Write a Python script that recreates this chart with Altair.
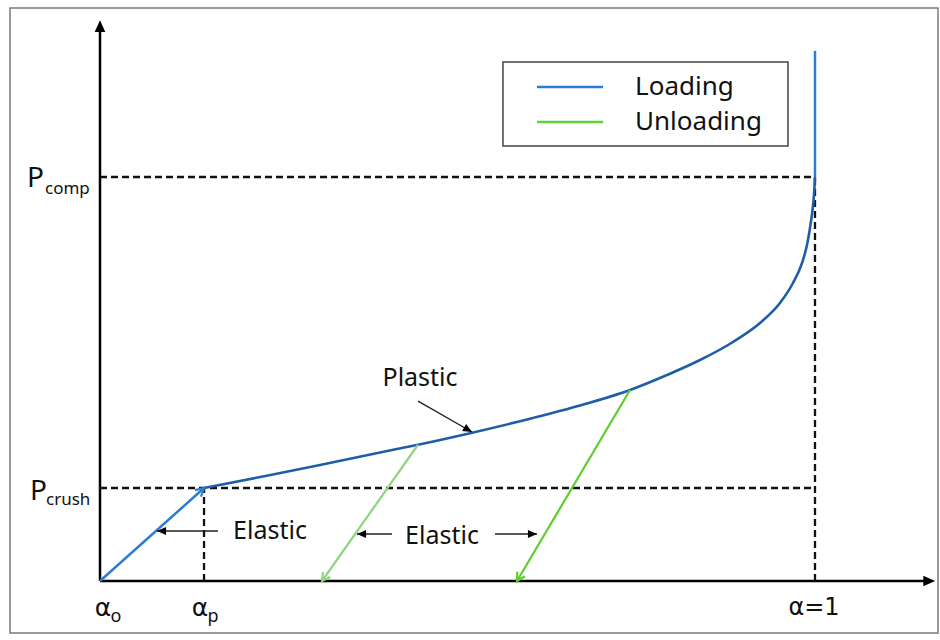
import math
import altair as alt
import pandas as pd

W, H = 940, 640

# Normalised axes: alpha_o = 0, alpha = 1 at full density; pressure in units of P_crush
X_DOMAIN = [-0.13986, 1.17483]
Y_DOMAIN = [-0.6344, 6.2473]

ALPHA_P = 0.1455
P_CRUSH = 1.0
P_COMP = 4.344
P_TOP = 5.70          # end of the vertical loading branch at alpha = 1
X_AXIS_END = 1.168
Y_AXIS_END = 6.03

# plastic compaction curve (alpha_p, P_crush) -> (1, P_comp)
curve_alpha = [0.1455, 0.2238, 0.3077, 0.3916, 0.4448, 0.5175, 0.6056, 0.6713,
               0.7413, 0.7930, 0.8392, 0.8853, 0.9231, 0.9510, 0.9692, 0.9818,
               0.9888, 0.9930, 0.9965, 0.9986, 1.0]
curve_p = [1.0, 1.118, 1.247, 1.382, 1.465, 1.589, 1.753, 1.887,
           2.054, 2.215, 2.376, 2.570, 2.774, 2.989, 3.204, 3.419,
           3.613, 3.796, 3.989, 4.151, 4.344]

# elastic unloading paths: start on the curve, end on the alpha axis
unload_start_alpha = [0.4448, 0.7413]
unload_start_p = [1.465, 2.054]
unload_end_alpha = [0.3105, 0.5832]
unload_colors = ["#8fd47f", "#5fcd2c"]

BLUE_LIGHT = "#2c7bd4"
BLUE_DARK = "#1f5ea6"
GREEN = "#5fcf3a"
FONT = "Noto Sans"
GREEK_FONT = "DejaVu Sans"

xs = alt.Scale(domain=X_DOMAIN, nice=False, zero=False)
ys = alt.Scale(domain=Y_DOMAIN, nice=False, zero=False)


def px(a):
    return (a - X_DOMAIN[0]) / (X_DOMAIN[1] - X_DOMAIN[0]) * W


def py(p):
    return H - (p - Y_DOMAIN[0]) / (Y_DOMAIN[1] - Y_DOMAIN[0]) * H


def heading(a0, p0, a1, p1):
    """Clockwise screen angle (deg from 'up') of the direction from point 0 to point 1."""
    dx = px(a1) - px(a0)
    dy = py(p1) - py(p0)
    return math.degrees(math.atan2(dx, -dy)) % 360


def enc(**kw):
    base = dict(x=alt.X("a:Q", scale=xs, axis=None), y=alt.Y("p:Q", scale=ys, axis=None))
    base.update(kw)
    return base


def seg_enc():
    return dict(x=alt.X("a:Q", scale=xs, axis=None), y=alt.Y("p:Q", scale=ys, axis=None),
                x2="a2:Q", y2="p2:Q")


# outer frame
frame = alt.Chart(pd.DataFrame({"a": [-0.1259], "p": [6.161], "a2": [1.172], "p2": [-0.559]})).mark_rect(
    fill="white", stroke="#7a7a7a", strokeWidth=1.5).encode(**seg_enc())

# dashed guide lines
guides = pd.DataFrame({
    "a": [0.0, 0.0, ALPHA_P, 1.0],
    "p": [P_CRUSH, P_COMP, 0.0, 0.0],
    "a2": [1.0, 1.0, ALPHA_P, 1.0],
    "p2": [P_CRUSH, P_COMP, P_CRUSH, P_COMP],
})
dashed = alt.Chart(guides).mark_rule(color="#111", strokeWidth=2.3, strokeDash=[7, 4]).encode(**seg_enc())

# axes
axes_df = pd.DataFrame({"a": [0.0, 0.0], "p": [0.0, 0.0], "a2": [X_AXIS_END - 0.01, 0.0],
                        "p2": [0.0, Y_AXIS_END - 0.1]})
axes = alt.Chart(axes_df).mark_rule(color="#000", strokeWidth=2.5).encode(**seg_enc())

tri = "M0,0 L-0.45,1 L0.45,1 Z"
chev = "M-0.55,1 L0,0 L0.55,1"

axis_heads = pd.DataFrame({"a": [X_AXIS_END, 0.0], "p": [0.0, Y_AXIS_END], "ang": [90, 0]})
axis_arrows = alt.Chart(axis_heads).mark_point(shape=tri, filled=True, size=560, color="#000",
                                               opacity=1).encode(**enc(angle=alt.Angle("ang:Q", scale=None)))

# elastic loading from alpha_o to alpha_p
elastic_df = pd.DataFrame({"a": [0.0], "p": [0.0], "a2": [ALPHA_P], "p2": [P_CRUSH]})
elastic_line = alt.Chart(elastic_df).mark_rule(color=BLUE_LIGHT, strokeWidth=2.5).encode(**seg_enc())

# plastic curve and the final vertical branch
curve_df = pd.DataFrame({"a": curve_alpha, "p": curve_p, "i": range(len(curve_alpha))})
curve = alt.Chart(curve_df).mark_line(color=BLUE_DARK, strokeWidth=2.6, interpolate="monotone").encode(
    **enc(order="i:Q"))
vert_df = pd.DataFrame({"a": [1.0], "p": [P_COMP], "a2": [1.0], "p2": [P_TOP]})
vert = alt.Chart(vert_df).mark_rule(color=BLUE_LIGHT, strokeWidth=2.5).encode(**seg_enc())

# unloading lines
unload_df = pd.DataFrame({"a": unload_start_alpha, "p": unload_start_p,
                          "a2": unload_end_alpha, "p2": [0.0, 0.0], "c": unload_colors})
unload = alt.Chart(unload_df).mark_rule(strokeWidth=2.2).encode(
    **seg_enc(), color=alt.Color("c:N", scale=None))

# chevron heads on the loading / unloading paths
heads_df = pd.DataFrame({
    "a": [ALPHA_P] + unload_end_alpha,
    "p": [P_CRUSH, 0.0, 0.0],
    "ang": [heading(0, 0, ALPHA_P, P_CRUSH)]
    + [heading(unload_start_alpha[k], unload_start_p[k], unload_end_alpha[k], 0.0) for k in range(2)],
    "c": [BLUE_LIGHT] + unload_colors,
})
heads = alt.Chart(heads_df).mark_point(shape=chev, filled=False, strokeWidth=2.2, size=260,
                                       opacity=1).encode(
    **enc(angle=alt.Angle("ang:Q", scale=None), color=alt.Color("c:N", scale=None)))

# annotation pointers
ann_start_a = [0.1650, 0.4084, 0.5524, 0.4448]
ann_start_p = [0.5376, 0.5054, 0.5054, 1.935]
ann_end_a = [0.0797, 0.3594, 0.6112, 0.5203]
ann_end_p = [0.5376, 0.5054, 0.5054, 1.602]
ann_df = pd.DataFrame({"a": ann_start_a, "p": ann_start_p, "a2": ann_end_a, "p2": ann_end_p})
ann_lines = alt.Chart(ann_df).mark_rule(color="#222", strokeWidth=1.4).encode(**seg_enc())
ann_heads_df = pd.DataFrame({
    "a": ann_end_a, "p": ann_end_p,
    "ang": [heading(ann_start_a[k], ann_start_p[k], ann_end_a[k], ann_end_p[k]) for k in range(4)],
})
ann_heads = alt.Chart(ann_heads_df).mark_point(shape=tri, filled=True, size=330, color="#000",
                                               opacity=1).encode(**enc(angle=alt.Angle("ang:Q", scale=None)))

# annotation words
words_df = pd.DataFrame({"t": ["Elastic", "Elastic", "Plastic"],
                         "a": [0.2378, 0.4783, 0.4476], "p": [0.5376, 0.4839, 2.183]})
words = alt.Chart(words_df).mark_text(font=FONT, fontSize=25, color="#111", align="center",
                                      baseline="middle").encode(**enc(text="t:N"))

# pressure labels: P with subscripts
p_main = alt.Chart(pd.DataFrame({"t": ["P", "P"], "a": [-0.1021, -0.0979], "p": [4.237, 0.871]})).mark_text(
    font=FONT, fontSize=28, color="#111", align="left", baseline="alphabetic").encode(**enc(text="t:N"))
p_sub = alt.Chart(pd.DataFrame({"t": ["comp", "crush"], "a": [-0.0769, -0.0755], "p": [4.161, 0.817]})).mark_text(
    font=FONT, fontSize=17, color="#111", align="left", baseline="alphabetic").encode(**enc(text="t:N"))

# alpha labels
a_main = alt.Chart(pd.DataFrame({"t": ["α", "α"], "a": [0.0042, 0.1399],
                                 "p": [-0.376, -0.376]})).mark_text(
    font=GREEK_FONT, fontSize=25, color="#111", align="center", baseline="alphabetic").encode(**enc(text="t:N"))
a_one = alt.Chart(pd.DataFrame({"t": ["α=1"], "a": [0.9986], "p": [-0.366]})).mark_text(
    font=GREEK_FONT, fontSize=24, color="#111", align="center", baseline="alphabetic").encode(**enc(text="t:N"))
a_sub = alt.Chart(pd.DataFrame({"t": ["o", "p"], "a": [0.0224, 0.1580], "p": [-0.441, -0.441]})).mark_text(
    font=FONT, fontSize=18, color="#111", align="center", baseline="alphabetic").encode(**enc(text="t:N"))

# legend
legend_box = alt.Chart(pd.DataFrame({"a": [0.5636], "p": [5.581], "a2": [0.9622], "p2": [4.677]})).mark_rect(
    fill="white", stroke="#444", strokeWidth=1.5).encode(**seg_enc())
legend_lines = alt.Chart(pd.DataFrame({"a": [0.6112, 0.6112], "p": [5.312, 4.935], "a2": [0.7035, 0.7035],
                                       "p2": [5.312, 4.935], "c": [BLUE_LIGHT, GREEN]})).mark_rule(
    strokeWidth=2.5).encode(**seg_enc(), color=alt.Color("c:N", scale=None))
legend_text = alt.Chart(pd.DataFrame({"t": ["Loading", "Unloading"], "a": [0.7483, 0.7483],
                                      "p": [5.312, 4.935]})).mark_text(
    font=FONT, fontSize=26, color="#111", align="left", baseline="middle").encode(**enc(text="t:N"))

chart = alt.layer(
    frame, dashed, axes, axis_arrows, elastic_line, curve, vert, unload, heads,
    ann_lines, ann_heads, words, p_main, p_sub, a_main, a_one, a_sub,
    legend_box, legend_lines, legend_text,
).properties(
    width=W, height=H, autosize=alt.AutoSizeParams(type="none"), padding=0,
).configure_view(stroke=None)

chart.save("out.html", embed_options={"renderer": "svg", "actions": False})
